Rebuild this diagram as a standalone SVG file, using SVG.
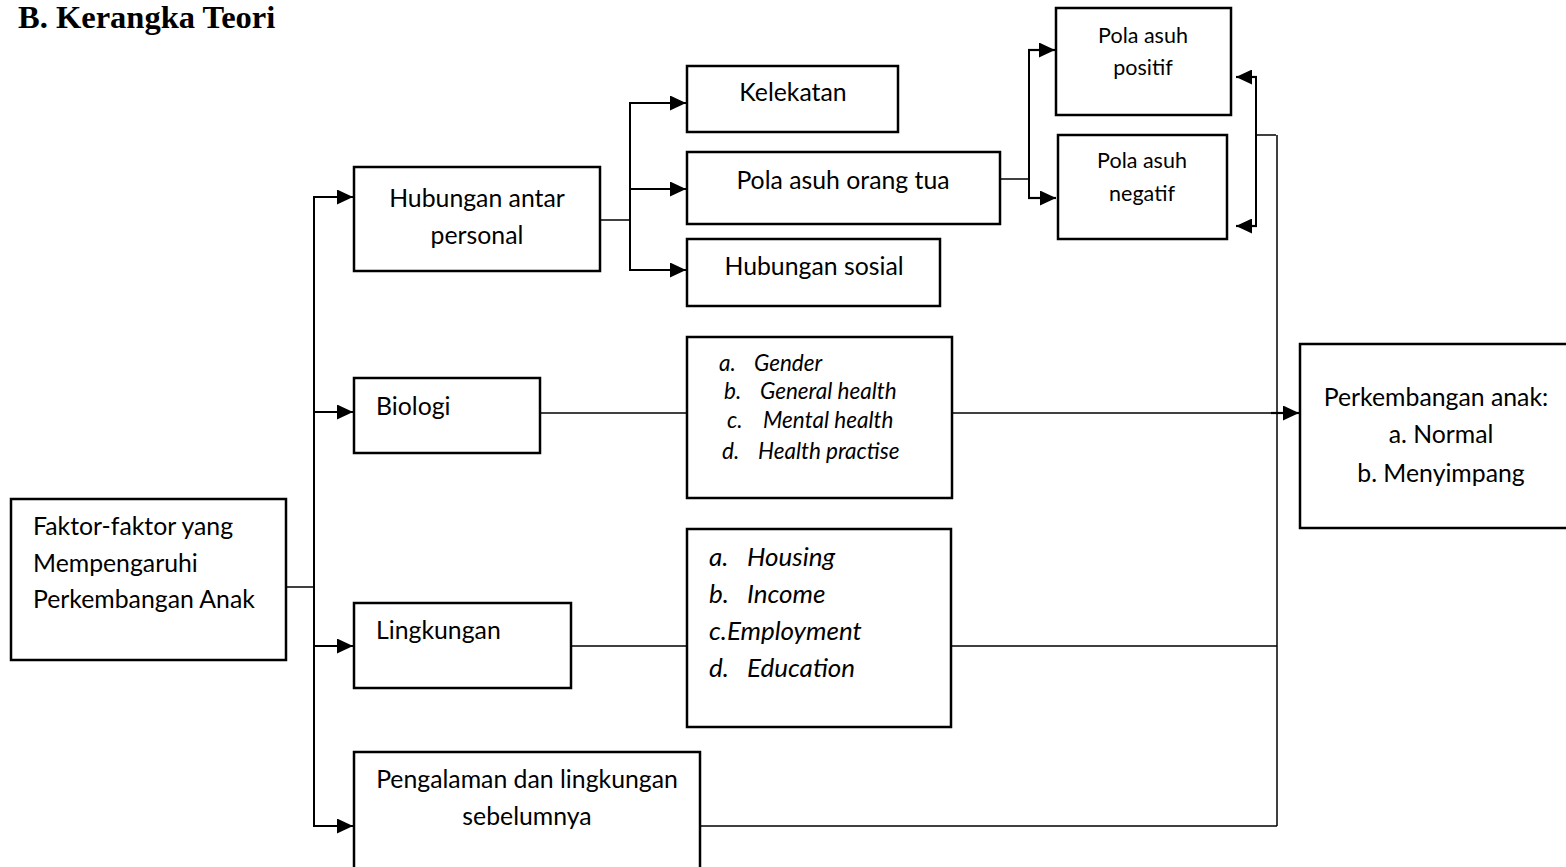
<svg xmlns="http://www.w3.org/2000/svg" width="1566" height="867" viewBox="0 0 1566 867">
<style>
.box{fill:#fff;stroke:#000;stroke-width:2.5}
.t{font-family:Lato,"Liberation Sans",sans-serif;font-size:24.8px;fill:#000}
.s{font-family:Lato,"Liberation Sans",sans-serif;font-size:21.5px;fill:#000}
.i{font-family:Lato,"Liberation Sans",sans-serif;font-size:22.5px;font-style:italic;fill:#000}
.il{font-family:Lato,"Liberation Sans",sans-serif;font-size:26px;font-style:italic;fill:#000}
.m{text-anchor:middle}
.ln{fill:none;stroke:#000;stroke-width:1.5}
.ar{fill:none;stroke:#000;stroke-width:2.2;marker-end:url(#ah)}
</style>
<defs>
<marker id="ah" markerWidth="16" markerHeight="15" refX="16" refY="7.5" orient="auto" markerUnits="userSpaceOnUse">
<path d="M0,0 L16,7.5 L0,15 z" fill="#000"/>
</marker>
</defs>
<rect width="1566" height="867" fill="#fff"/>
<text x="18" y="28" font-family="'Liberation Serif',serif" font-size="32.5" font-weight="bold">B. Kerangka Teori</text>

<g id="connectors">
<path class="ln" d="M287,587 H314"/>
<path class="ln" d="M314,197 V826" style="stroke-width:2"/>
<path class="ar" d="M313,197 H353"/>
<path class="ar" d="M313,412 H353"/>
<path class="ar" d="M313,646 H353"/>
<path class="ar" d="M313,826 H353"/>
<path class="ln" d="M594,220 H630"/>
<path class="ln" d="M630,102 V271" style="stroke-width:2"/>
<path class="ar" d="M629,103 H686"/>
<path class="ar" d="M629,189 H686"/>
<path class="ar" d="M629,270 H686"/>
<path class="ln" d="M1000,179 H1029"/>
<path class="ln" d="M1029,50 V198" style="stroke-width:2"/>
<path class="ar" d="M1028,50 H1055"/>
<path class="ar" d="M1028,198 H1056"/>
<path class="ln" d="M1256,76 V227" style="stroke-width:2"/>
<path class="ar" d="M1257,77 H1236"/>
<path class="ar" d="M1257,226 H1236"/>
<path class="ln" d="M1256,135 H1276"/>
<path class="ln" d="M1277,135 V826"/>
<path class="ln" d="M540,413 H694"/>
<path class="ln" d="M952,413 H1272"/>
<path class="ar" d="M1271,413 H1299"/>
<path class="ln" d="M571,646 H687"/>
<path class="ln" d="M951,646 H1277"/>
<path class="ln" d="M700,826 H1277"/>
</g>

<g id="faktor">
<rect class="box" x="11" y="499" width="275" height="161"/>
<text class="t" x="33" y="535">Faktor-faktor yang</text>
<text class="t" x="33" y="572">Mempengaruhi</text>
<text class="t" x="33" y="608">Perkembangan Anak</text>
</g>

<g id="hubungan">
<rect class="box" x="354" y="167" width="246" height="104"/>
<text class="t m" x="477" y="207">Hubungan antar</text>
<text class="t m" x="477" y="244">personal</text>
</g>

<g id="kelekatan">
<rect class="box" x="687" y="66" width="211" height="66"/>
<text class="t m" x="793" y="101">Kelekatan</text>
</g>

<g id="polaasuhortu">
<rect class="box" x="687" y="152" width="313" height="72"/>
<text class="t m" x="843" y="189">Pola asuh orang tua</text>
</g>

<g id="hubsosial">
<rect class="box" x="687" y="239" width="253" height="67"/>
<text class="t m" x="814" y="275">Hubungan sosial</text>
</g>

<g id="positif">
<rect class="box" x="1056" y="8" width="175" height="107"/>
<text class="s m" x="1143" y="43">Pola asuh</text>
<text class="s m" x="1143" y="75">positif</text>
</g>

<g id="negatif">
<rect class="box" x="1058" y="135" width="169" height="104"/>
<text class="s m" x="1142" y="168">Pola asuh</text>
<text class="s m" x="1142" y="201">negatif</text>
</g>

<g id="biologi">
<rect class="box" x="354" y="378" width="186" height="75"/>
<text class="t" x="376" y="415">Biologi</text>
</g>

<g id="biolist">
<rect class="box" x="687" y="337" width="265" height="161"/>
<text class="i" x="719" y="371">a.</text><text class="i" x="754" y="371">Gender</text>
<text class="i" x="724" y="399">b.</text><text class="i" x="760" y="399">General health</text>
<text class="i" x="727" y="428">c.</text><text class="i" x="763" y="428">Mental health</text>
<text class="i" x="722" y="459">d.</text><text class="i" x="758" y="459">Health practise</text>
</g>

<g id="lingkungan">
<rect class="box" x="354" y="603" width="217" height="85"/>
<text class="t" x="376" y="639">Lingkungan</text>
</g>

<g id="linglist">
<rect class="box" x="687" y="529" width="264" height="198"/>
<text class="il" x="709" y="566">a.</text><text class="il" x="747" y="566">Housing</text>
<text class="il" x="709" y="603">b.</text><text class="il" x="747" y="603">Income</text>
<text class="il" x="709" y="640">c.Employment</text>
<text class="il" x="709" y="677">d.</text><text class="il" x="747" y="677">Education</text>
</g>

<g id="pengalaman">
<rect class="box" x="354" y="752" width="346" height="125"/>
<text class="t m" x="527" y="788">Pengalaman dan lingkungan</text>
<text class="t m" x="527" y="825">sebelumnya</text>
</g>

<g id="perkembangan">
<rect class="box" x="1300" y="344" width="280" height="184"/>
<text class="t m" x="1436" y="406">Perkembangan anak:</text>
<text class="t m" x="1441" y="443">a. Normal</text>
<text class="t m" x="1441" y="482">b. Menyimpang</text>
</g>
</svg>
